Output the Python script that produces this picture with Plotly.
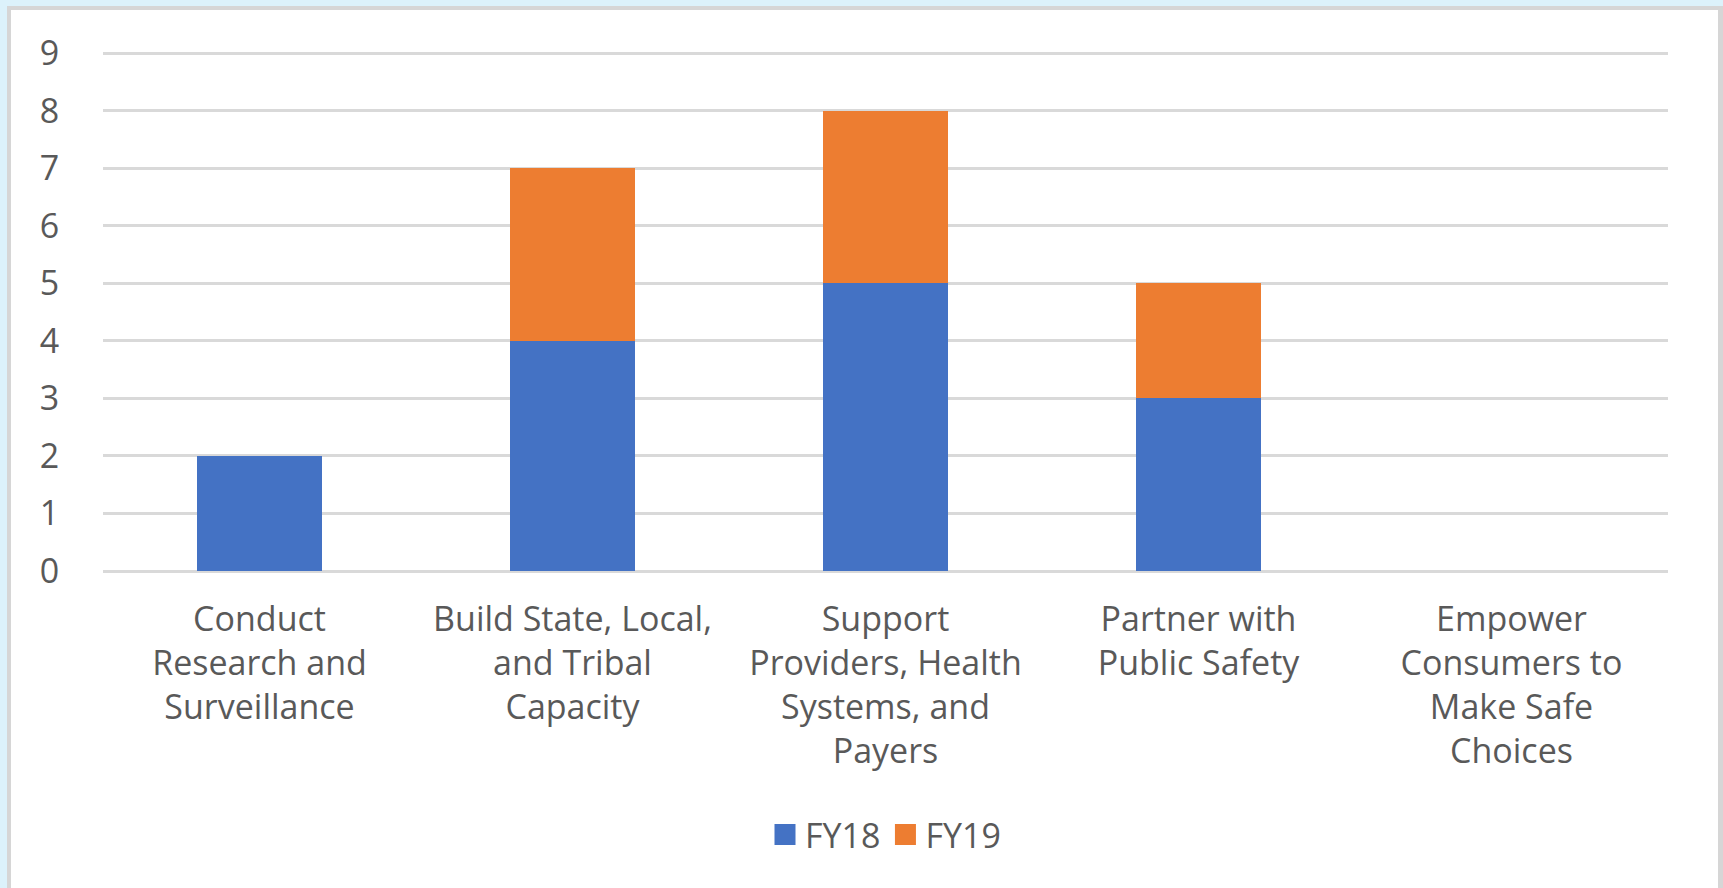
import plotly.graph_objects as go

categories = [
    "Conduct<br>Research and<br>Surveillance",
    "Build State, Local,<br>and Tribal<br>Capacity",
    "Support<br>Providers, Health<br>Systems, and<br>Payers",
    "Partner with<br>Public Safety",
    "Empower<br>Consumers to<br>Make Safe<br>Choices",
]
series_names = ["FY18", "FY19"]
fy18 = [2, 4, 5, 3, 0]
fy19 = [0, 3, 3, 2, 0]
y_ticks = [0, 1, 2, 3, 4, 5, 6, 7, 8, 9]

W, H = 1723, 888
L, R, T, B = 103, 55, 52, 317
PW, PH = W - L - R, H - T - B

def px(x):
    return (x - L) / PW

def py(y):
    return (H - B - y) / PH

FONT = "Open Sans"
TXT = "#595959"
FS = 34
colors = ["#4472C4", "#ED7D31"]

fig = go.Figure()
for name, vals, col in zip(series_names, [fy18, fy19], colors):
    fig.add_trace(go.Bar(x=categories, y=vals, name=name, showlegend=False,
                         marker=dict(color=col, line=dict(width=0))))
# legend proxies with larger square swatches
for name, col in zip(series_names, colors):
    fig.add_trace(go.Scatter(x=[None], y=[None], mode="markers", name=name,
                             marker=dict(symbol="square", size=16, color=col,
                                         line=dict(width=5, color=col))))

shapes = []
blue = "#dcf2fb"
gray = "#d6d6d6"
shapes.append(dict(type="rect", xref="paper", yref="paper", x0=px(-2), x1=px(W + 2), y0=py(6), y1=py(-2), fillcolor=blue, line=dict(width=0), layer="below"))
shapes.append(dict(type="rect", xref="paper", yref="paper", x0=px(-2), x1=px(7), y0=py(H + 2), y1=py(0), fillcolor=blue, line=dict(width=0), layer="below"))
shapes.append(dict(type="rect", xref="paper", yref="paper", x0=px(7), x1=px(W + 2), y0=py(10), y1=py(6), fillcolor=gray, line=dict(width=0), layer="below"))
shapes.append(dict(type="rect", xref="paper", yref="paper", x0=px(7), x1=px(11), y0=py(H + 2), y1=py(6), fillcolor=gray, line=dict(width=0), layer="below"))
shapes.append(dict(type="rect", xref="paper", yref="paper", x0=px(1718), x1=px(W + 2), y0=py(H + 2), y1=py(6), fillcolor=gray, line=dict(width=0), layer="below"))

fig.update_layout(
    width=W, height=H,
    margin=dict(l=L, r=R, t=T, b=B, autoexpand=False),
    barmode="stack",
    bargap=0.6,
    paper_bgcolor="white",
    plot_bgcolor="white",
    font=dict(family=FONT, color=TXT, size=FS),
    shapes=shapes,
    showlegend=True,
    legend=dict(orientation="h", x=0.5, xanchor="center", y=py(835), yanchor="middle",
                font=dict(family=FONT, size=FS, color=TXT), traceorder="normal",
                itemwidth=30, itemsizing="trace"),
    xaxis=dict(showgrid=False, zeroline=False, showline=False, tickfont=dict(size=FS, color=TXT),
               ticks="outside", ticklen=18, tickcolor="rgba(0,0,0,0)", fixedrange=True),
    yaxis=dict(range=[0, 9.02], tickvals=y_ticks, showgrid=True, gridcolor="#d9d9d9", gridwidth=3,
               zeroline=True, zerolinecolor="#d9d9d9", zerolinewidth=3, showline=False,
               tickfont=dict(size=FS, color=TXT), ticks="outside", ticklen=36,
               tickcolor="rgba(0,0,0,0)", fixedrange=True),
)

fig.write_html("out.html", config={"displayModeBar": False},
               post_script="document.body.style.margin='0';document.body.style.overflow='hidden';")
